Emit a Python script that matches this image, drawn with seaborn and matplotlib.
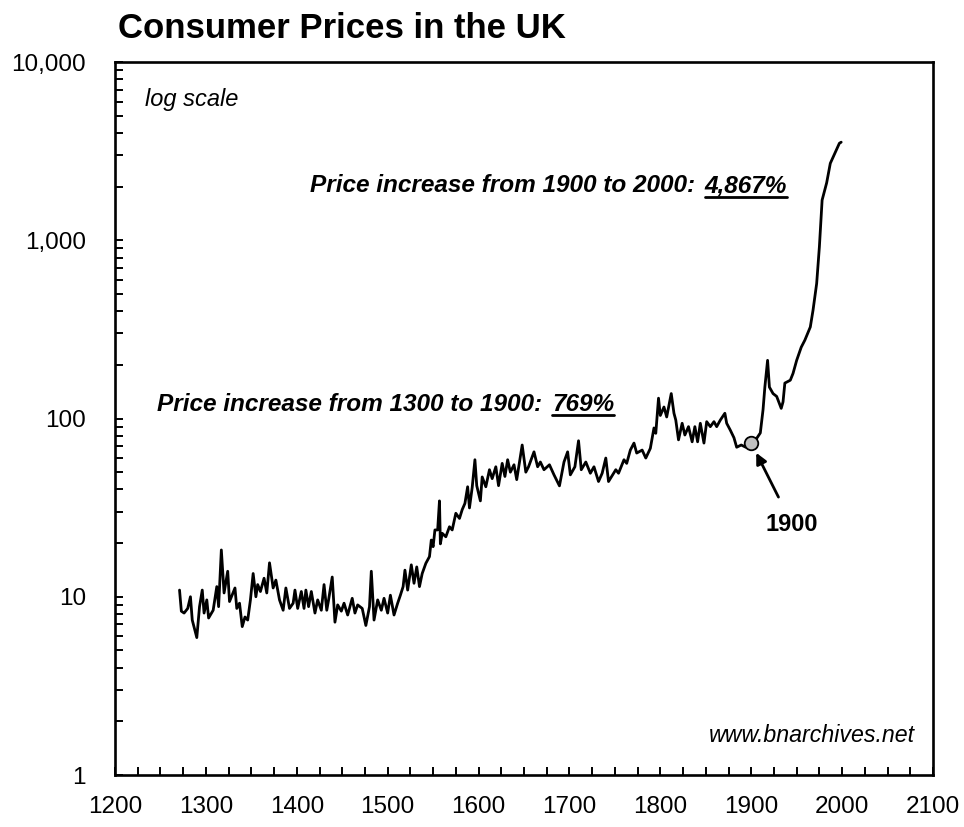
import matplotlib
matplotlib.use('Agg')
import matplotlib.pyplot as plt
import seaborn as sns
import pandas as pd
from matplotlib.ticker import MultipleLocator, LogLocator, FixedLocator, FixedFormatter, NullFormatter
from matplotlib.lines import Line2D

# ---------------- data ----------------
years = [1271, 1273, 1276, 1280, 1283, 1285, 1290, 1293, 1296, 1298,
         1301, 1303, 1308, 1312, 1314, 1317, 1320, 1324, 1326, 1332,
         1334, 1337, 1340, 1343, 1346, 1349, 1352, 1355, 1357, 1360,
         1364, 1367, 1370, 1374, 1377, 1381, 1385, 1388, 1392, 1396,
         1398, 1401, 1405, 1408, 1410, 1413, 1416, 1420, 1423, 1427,
         1430, 1433, 1435, 1439, 1442, 1445, 1449, 1452, 1456, 1461,
         1464, 1467, 1472, 1476, 1480, 1482, 1485, 1489, 1493, 1496,
         1500, 1503, 1507, 1511, 1514, 1517, 1519, 1522, 1526, 1529,
         1532, 1535, 1538, 1542, 1546, 1548, 1550, 1552, 1555, 1557,
         1558, 1560, 1564, 1568, 1571, 1575, 1579, 1582, 1585, 1588,
         1590, 1593, 1596, 1598, 1602, 1604, 1608, 1612, 1615, 1619,
         1622, 1626, 1629, 1632, 1635, 1639, 1642, 1648, 1652, 1655,
         1661, 1665, 1668, 1672, 1678, 1683, 1689, 1694, 1698, 1701,
         1706, 1710, 1713, 1718, 1723, 1727, 1732, 1736, 1740, 1743,
         1751, 1754, 1760, 1763, 1767, 1771, 1774, 1780, 1784, 1789,
         1793, 1795, 1798, 1800, 1804, 1807, 1812, 1815, 1817, 1820,
         1824, 1827, 1831, 1835, 1838, 1841, 1844, 1848, 1851, 1855,
         1859, 1862, 1866, 1871, 1873, 1877, 1881, 1884, 1889, 1894,
         1900, 1905, 1910, 1913, 1915, 1918, 1920, 1924, 1928,
         1933, 1935, 1937, 1943, 1946, 1950, 1955, 1959, 1965, 1968,
         1972, 1975, 1978, 1983, 1987, 1992, 1997, 1999]
prices = [10.9, 8.3, 8.1, 8.6, 10.0, 7.4, 5.9, 8.8, 10.9, 8.1,
          9.6, 7.6, 8.4, 11.4, 8.8, 18.3, 10.5, 13.9, 9.4, 11.2,
          8.6, 9.2, 6.8, 7.7, 7.4, 9.6, 13.5, 10.0, 11.7, 10.7,
          12.7, 10.5, 15.5, 11.2, 12.4, 9.6, 8.4, 11.2, 8.6, 9.2,
          10.9, 8.6, 10.7, 8.6, 10.9, 8.8, 10.7, 8.1, 9.6, 8.4,
          11.7, 8.4, 9.6, 12.9, 7.2, 9.0, 8.3, 9.2, 7.9, 9.8,
          8.1, 9.0, 8.6, 6.9, 8.8, 13.9, 7.4, 9.6, 8.4, 9.8,
          8.1, 10.2, 7.9, 9.2, 10.2, 11.4, 14.1, 10.9, 15.1, 11.9,
          14.7, 11.4, 13.5, 15.4, 16.8, 20.8, 19.1, 23.7, 23.7, 34.5,
          19.8, 22.7, 21.7, 24.7, 23.7, 29.4, 27.5, 30.8, 33.4, 41.4,
          31.5, 41.0, 58.7, 42.0, 34.5, 47.0, 41.4, 51.6, 46.0, 53.6,
          42.0, 56.0, 47.3, 58.7, 50.0, 55.0, 45.4, 71.0, 50.0, 53.6,
          65.0, 53.6, 57.0, 51.6, 55.0, 48.3, 41.9, 57.0, 65.0, 48.3,
          53.6, 75.0, 51.6, 57.0, 49.3, 53.6, 44.3, 49.3, 60.0, 44.3,
          51.6, 49.3, 58.7, 56.0, 66.5, 72.8, 64.0, 66.5, 60.0, 68.0,
          88.5, 82.6, 130.0, 104.0, 116.0, 102.0, 138.0, 107.0, 98.0, 75.9,
          94.0, 80.8, 90.0, 74.0, 90.0, 74.0, 94.0, 72.8, 96.0, 90.0,
          96.0, 90.0, 98.0, 107.0, 94.0, 86.0, 78.0, 69.0, 71.0, 69.0,
          73.0, 76.0, 83.0, 112.0, 150.0, 212.0, 150.0, 138.0, 133.0,
          114.0, 124.0, 158.0, 164.0, 179.0, 212.0, 251.0, 275.0, 326.0, 405.0,
          572.0, 920.0, 1680.0, 2100.0, 2700.0, 3070.0, 3500.0, 3550.0]
marker_year = [1900]
marker_price = [73.0]
x_ticks = [1200, 1300, 1400, 1500, 1600, 1700, 1800, 1900, 2000, 2100]
y_ticks = [1, 10, 100, 1000, 10000]
y_labels = ['1', '10', '100', '1,000', '10,000']

# ---------------- style ----------------
sns.set_style('white')
plt.rcParams['font.family'] = ['Liberation Sans', 'DejaVu Sans']
plt.rcParams['text.color'] = 'black'
plt.rcParams['axes.labelcolor'] = 'black'
plt.rcParams['xtick.color'] = 'black'
plt.rcParams['ytick.color'] = 'black'

fig = plt.figure(figsize=(9.64, 8.27), dpi=100)
ax = fig.add_axes([115 / 964, 1 - 775 / 827, 818 / 964, 713 / 827])

df = pd.DataFrame({'year': years, 'price': prices})
sns.lineplot(data=df, x='year', y='price', ax=ax, color='black', linewidth=2.0)
sns.scatterplot(x=marker_year, y=marker_price, ax=ax, s=95, color='#c0c0c0',
                edgecolor='black', linewidth=1.3, zorder=5)

ax.set_yscale('log')
ax.set_xlim(1200, 2100)
ax.set_ylim(1, 10000)
ax.set_xlabel('')
ax.set_ylabel('')

ax.xaxis.set_major_locator(FixedLocator(x_ticks))
ax.xaxis.set_minor_locator(MultipleLocator(25))
ax.yaxis.set_major_locator(FixedLocator(y_ticks))
ax.yaxis.set_major_formatter(FixedFormatter(y_labels))
ax.yaxis.set_minor_locator(LogLocator(base=10, subs=range(2, 10)))
ax.yaxis.set_minor_formatter(NullFormatter())

ax.tick_params(axis='both', which='both', direction='in', length=5.5, width=1.4,
               color='black', labelsize=17.5, labelcolor='black')
ax.tick_params(axis='x', which='both', pad=15, bottom=True, top=False)
ax.tick_params(axis='y', which='both', pad=21, left=True, right=False)

for sp in ax.spines.values():
    sp.set_visible(True)
    sp.set_color('black')
    sp.set_linewidth(1.9)

# ---------------- texts ----------------
fig.text(118 / 964, 1 - 28 / 827, 'Consumer Prices in the UK', fontsize=25,
         fontweight='bold', ha='left', va='center', color='black')

ax.text(0.037, 0.947, 'log scale', transform=ax.transAxes, fontsize=17,
        style='italic', ha='left', va='center')
ax.text(0.978, 0.056, 'www.bnarchives.net', transform=ax.transAxes, fontsize=16.7,
        style='italic', ha='right', va='center')

t1 = ax.text((310 - 115) / 818, (775 - 186) / 713, 'Price increase from 1900 to 2000:',
             transform=ax.transAxes, fontsize=17.6, style='italic', fontweight='bold',
             ha='left', va='center')
u1 = ax.annotate('4,867%', xy=(1, 0.5), xycoords=t1, xytext=(7, 0),
                 textcoords='offset points', fontsize=17.6, style='italic',
                 fontweight='bold', ha='left', va='center')

t2 = ax.text((157 - 115) / 818, (775 - 405) / 713, 'Price increase from 1300 to 1900:',
             transform=ax.transAxes, fontsize=17.6, style='italic', fontweight='bold',
             ha='left', va='center')
u2 = ax.annotate('769%', xy=(1, 0.5), xycoords=t2, xytext=(7, 0),
                 textcoords='offset points', fontsize=17.6, style='italic',
                 fontweight='bold', ha='left', va='center')

ax.annotate('1900', xy=(marker_year[0], marker_price[0]), xytext=(1945, 25.5),
            textcoords='data', fontsize=17, fontweight='bold', ha='center', va='center',
            arrowprops=dict(arrowstyle='-|>', color='black', lw=2.0,
                            shrinkA=10, shrinkB=8, mutation_scale=16))

# underline the percentage values
fig.canvas.draw()
renderer = fig.canvas.get_renderer()
inv = fig.transFigure.inverted()
for u in (u1, u2):
    bb = u.get_window_extent(renderer)
    (x0, y0) = inv.transform((bb.x0, bb.y0 + 1))
    (x1, _) = inv.transform((bb.x1, bb.y0 + 1))
    fig.add_artist(Line2D([x0, x1], [y0, y0], transform=fig.transFigure,
                          color='black', linewidth=2.0))

fig.savefig('out.png', dpi=100)
